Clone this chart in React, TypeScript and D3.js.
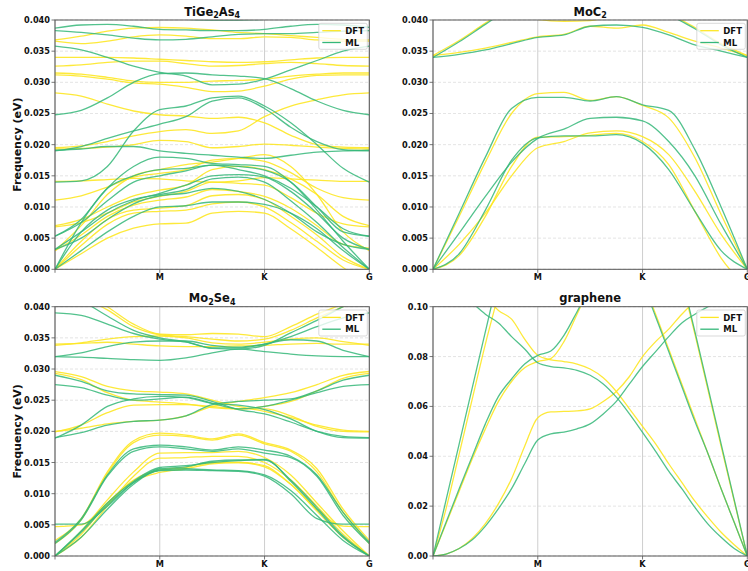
import React from 'react';
import * as d3 from 'd3';

// ---------- path grid (G-M-K-G) ----------
const K13 = [0, 0.25, 0.5, 0.75, 1, 1.25, 1.5, 1.75, 2, 2.25, 2.5, 2.75, 3];
const K25 = [0, 0.125, 0.25, 0.375, 0.5, 0.625, 0.75, 0.875, 1, 1.125, 1.25, 1.375, 1.5, 1.625, 1.75, 1.875, 2, 2.125, 2.25, 2.375, 2.5, 2.625, 2.75, 2.875, 3];
const kTickPos = [0, 1, 2, 3];
const kTickLabels = ['', 'M', 'K', 'G'];
const yTicks040 = [0, 0.005, 0.01, 0.015, 0.02, 0.025, 0.03, 0.035, 0.04];
const yTicks010 = [0, 0.02, 0.04, 0.06, 0.08, 0.1];
const seriesNames = ['DFT', 'ML'];

// ---------- TiGe2As4 ----------
const tiDFT = [
  [0.0368, 0.0374, 0.0382, 0.0387, 0.0388, 0.0387, 0.0384, 0.0380, 0.0378, 0.0375, 0.0372, 0.0369, 0.0368],
  [0.0366, 0.0362, 0.0366, 0.0373, 0.0376, 0.0374, 0.0370, 0.0370, 0.0373, 0.0372, 0.0368, 0.0366, 0.0366],
  [0.0340, 0.0340, 0.0340, 0.0339, 0.0337, 0.0335, 0.0333, 0.0332, 0.0333, 0.0336, 0.0339, 0.0340, 0.0340],
  [0.0326, 0.0328, 0.0332, 0.0334, 0.0334, 0.0330, 0.0326, 0.0327, 0.0330, 0.0332, 0.0330, 0.0327, 0.0326],
  [0.0315, 0.0313, 0.0308, 0.0302, 0.0300, 0.0300, 0.0302, 0.0303, 0.0305, 0.0310, 0.0313, 0.0315, 0.0315],
  [0.0312, 0.0310, 0.0305, 0.0299, 0.0297, 0.0292, 0.0285, 0.0286, 0.0294, 0.0305, 0.0311, 0.0312, 0.0312],
  [0.0283, 0.0278, 0.0265, 0.0254, 0.0248, 0.0246, 0.0242, 0.0244, 0.0235, 0.0215, 0.0200, 0.0196, 0.0195],
  [0.0195, 0.0198, 0.0205, 0.0214, 0.0221, 0.0224, 0.0218, 0.0222, 0.0245, 0.0262, 0.0272, 0.0280, 0.0283],
  [0.0193, 0.0194, 0.0196, 0.0200, 0.0207, 0.0205, 0.0195, 0.0197, 0.0201, 0.0199, 0.0196, 0.0194, 0.0193],
  [0.0141, 0.0142, 0.0144, 0.0146, 0.0145, 0.0142, 0.0140, 0.0142, 0.0147, 0.0145, 0.0143, 0.0141, 0.0141],
  [0.0111, 0.0118, 0.0132, 0.0148, 0.0154, 0.0160, 0.0175, 0.0178, 0.0173, 0.0155, 0.0130, 0.0115, 0.0111],
  [0.0070, 0.0080, 0.0100, 0.0118, 0.0127, 0.0135, 0.0160, 0.0165, 0.0160, 0.0145, 0.0120, 0.0085, 0.0070],
  [0.0068, 0.0075, 0.0090, 0.0108, 0.0117, 0.0125, 0.0140, 0.0138, 0.0135, 0.0115, 0.0090, 0.0073, 0.0068],
  [0.0030, 0.0055, 0.0085, 0.0103, 0.0111, 0.0116, 0.0128, 0.0125, 0.0117, 0.0098, 0.0070, 0.0040, 0.0034],
  [0.0000, 0.0045, 0.0080, 0.0095, 0.0098, 0.0102, 0.0118, 0.0120, 0.0112, 0.0085, 0.0055, 0.0020, 0.0000],
  [0.0000, 0.0038, 0.0072, 0.0090, 0.0093, 0.0095, 0.0105, 0.0108, 0.0100, 0.0075, 0.0045, 0.0015, 0.0000],
  [0.0000, 0.0025, 0.0050, 0.0066, 0.0073, 0.0074, 0.0090, 0.0093, 0.0090, 0.0065, 0.0035, 0.0003, -0.0025],
  [0.0030, 0.0070, 0.0120, 0.0150, 0.0160, 0.0168, 0.0172, 0.0178, 0.0184, 0.0165, 0.0120, 0.0060, 0.0030],
];
const tiML = [
  [0.0387, 0.0392, 0.0393, 0.0390, 0.0385, 0.0384, 0.0383, 0.0383, 0.0385, 0.0390, 0.0393, 0.0392, 0.0388],
  [0.0383, 0.0380, 0.0376, 0.0371, 0.0368, 0.0369, 0.0373, 0.0377, 0.0378, 0.0378, 0.0380, 0.0382, 0.0383],
  [0.0450, 0.0440, 0.0430, 0.0415, 0.0406, 0.0401, 0.0400, 0.0400, 0.0401, 0.0404, 0.0410, 0.0420, 0.0450],
  [0.0358, 0.0352, 0.0340, 0.0326, 0.0316, 0.0310, 0.0296, 0.0297, 0.0305, 0.0320, 0.0335, 0.0350, 0.0358],
  [0.0248, 0.0255, 0.0275, 0.0300, 0.0314, 0.0315, 0.0312, 0.0310, 0.0306, 0.0290, 0.0270, 0.0255, 0.0248],
  [0.0140, 0.0142, 0.0165, 0.0222, 0.0256, 0.0262, 0.0275, 0.0278, 0.0262, 0.0235, 0.0200, 0.0162, 0.0140],
  [0.0190, 0.0197, 0.0210, 0.0222, 0.0233, 0.0245, 0.0270, 0.0275, 0.0258, 0.0228, 0.0205, 0.0192, 0.0190],
  [0.0191, 0.0193, 0.0197, 0.0197, 0.0190, 0.0186, 0.0183, 0.0180, 0.0178, 0.0183, 0.0188, 0.0190, 0.0191],
  [0.0000, 0.0030, 0.0060, 0.0085, 0.0100, 0.0102, 0.0108, 0.0108, 0.0104, 0.0090, 0.0065, 0.0030, 0.0000],
  [0.0032, 0.0050, 0.0080, 0.0105, 0.0118, 0.0122, 0.0130, 0.0125, 0.0112, 0.0090, 0.0060, 0.0040, 0.0032],
  [0.0000, 0.0060, 0.0095, 0.0112, 0.0120, 0.0128, 0.0145, 0.0148, 0.0140, 0.0110, 0.0075, 0.0035, 0.0000],
  [0.0032, 0.0060, 0.0090, 0.0110, 0.0122, 0.0135, 0.0150, 0.0152, 0.0148, 0.0125, 0.0090, 0.0050, 0.0032],
  [0.0053, 0.0075, 0.0110, 0.0140, 0.0150, 0.0158, 0.0167, 0.0160, 0.0150, 0.0130, 0.0100, 0.0065, 0.0053],
  [0.0053, 0.0080, 0.0130, 0.0150, 0.0160, 0.0162, 0.0167, 0.0165, 0.0159, 0.0140, 0.0100, 0.0060, 0.0053],
  [0.0000, 0.0075, 0.0130, 0.0165, 0.0180, 0.0178, 0.0170, 0.0168, 0.0165, 0.0140, 0.0095, 0.0045, 0.0000],
];

// ---------- MoC2 ----------
const mocDFT = [
  [0.0343, 0.0367, 0.0395, 0.0420, 0.0440, 0.0450, 0.0455, 0.0455, 0.0445, 0.0412, 0.0388, 0.0362, 0.0343],
  [0.0343, 0.0348, 0.0355, 0.0364, 0.0373, 0.0377, 0.0390, 0.0387, 0.0392, 0.0380, 0.0366, 0.0355, 0.0343],
  [0.0500, 0.0470, 0.0440, 0.0415, 0.0401, 0.0398, 0.0399, 0.0410, 0.0430, 0.0450, 0.0470, 0.0490, 0.0500],
  [0.0000, 0.0085, 0.0172, 0.0250, 0.0282, 0.0284, 0.0271, 0.0277, 0.0263, 0.0243, 0.0179, 0.0088, 0.0000],
  [0.0000, 0.0040, 0.0090, 0.0150, 0.0195, 0.0205, 0.0219, 0.0222, 0.0213, 0.0184, 0.0125, 0.0056, 0.0000],
  [0.0000, 0.0022, 0.0085, 0.0165, 0.0212, 0.0213, 0.0215, 0.0218, 0.0205, 0.0168, 0.0093, 0.0018, -0.0030],
];
const mocML = [
  [0.0340, 0.0365, 0.0393, 0.0420, 0.0440, 0.0450, 0.0455, 0.0455, 0.0445, 0.0410, 0.0386, 0.0360, 0.0340],
  [0.0340, 0.0345, 0.0352, 0.0362, 0.0372, 0.0376, 0.0390, 0.0392, 0.0388, 0.0376, 0.0360, 0.0350, 0.0340],
  [0.0000, 0.0090, 0.0180, 0.0258, 0.0276, 0.0276, 0.0270, 0.0277, 0.0264, 0.0255, 0.0192, 0.0100, 0.0000],
  [0.0000, 0.0058, 0.0117, 0.0172, 0.0210, 0.0225, 0.0242, 0.0244, 0.0238, 0.0205, 0.0150, 0.0072, 0.0000],
  [0.0000, 0.0025, 0.0095, 0.0175, 0.0211, 0.0214, 0.0214, 0.0216, 0.0202, 0.0160, 0.0093, 0.0030, 0.0000],
];

// ---------- Mo2Se4 ----------
const moseDFT = [
  [0.0440, 0.0425, 0.0400, 0.0372, 0.0356, 0.0355, 0.0357, 0.0356, 0.0352, 0.0368, 0.0388, 0.0405, 0.0430],
  [0.0430, 0.0415, 0.0395, 0.0368, 0.0355, 0.0352, 0.0348, 0.0345, 0.0348, 0.0362, 0.0382, 0.0400, 0.0420],
  [0.0340, 0.0341, 0.0343, 0.0340, 0.0337, 0.0336, 0.0336, 0.0337, 0.0338, 0.0340, 0.0341, 0.0340, 0.0340],
  [0.0338, 0.0342, 0.0348, 0.0352, 0.0353, 0.0350, 0.0342, 0.0340, 0.0343, 0.0348, 0.0350, 0.0344, 0.0338],
  [0.0296, 0.0288, 0.0272, 0.0265, 0.0263, 0.0260, 0.0250, 0.0240, 0.0232, 0.0222, 0.0210, 0.0202, 0.0200],
  [0.0200, 0.0205, 0.0212, 0.0216, 0.0218, 0.0225, 0.0240, 0.0248, 0.0254, 0.0262, 0.0275, 0.0290, 0.0296],
  [0.0293, 0.0283, 0.0262, 0.0250, 0.0247, 0.0244, 0.0238, 0.0236, 0.0240, 0.0248, 0.0265, 0.0285, 0.0293],
  [0.0199, 0.0210, 0.0230, 0.0242, 0.0243, 0.0243, 0.0240, 0.0236, 0.0236, 0.0225, 0.0208, 0.0200, 0.0199],
  [0.0025, 0.0060, 0.0135, 0.0185, 0.0197, 0.0194, 0.0188, 0.0196, 0.0182, 0.0170, 0.0140, 0.0075, 0.0025],
  [0.0020, 0.0058, 0.0132, 0.0182, 0.0194, 0.0192, 0.0186, 0.0194, 0.0180, 0.0168, 0.0135, 0.0070, 0.0020],
  [0.0000, 0.0040, 0.0090, 0.0135, 0.0165, 0.0166, 0.0166, 0.0168, 0.0158, 0.0130, 0.0085, 0.0040, 0.0000],
  [0.0000, 0.0030, 0.0080, 0.0128, 0.0157, 0.0158, 0.0160, 0.0160, 0.0150, 0.0122, 0.0080, 0.0035, 0.0000],
  [0.0047, 0.0050, 0.0085, 0.0122, 0.0138, 0.0142, 0.0150, 0.0150, 0.0145, 0.0115, 0.0075, 0.0048, 0.0047],
  [0.0000, 0.0035, 0.0085, 0.0120, 0.0134, 0.0140, 0.0148, 0.0150, 0.0143, 0.0115, 0.0072, 0.0030, 0.0000],
];
const moseML = [
  [0.0390, 0.0386, 0.0372, 0.0357, 0.0348, 0.0343, 0.0334, 0.0334, 0.0340, 0.0352, 0.0368, 0.0382, 0.0390],
  [0.0430, 0.0410, 0.0385, 0.0362, 0.0350, 0.0344, 0.0333, 0.0332, 0.0338, 0.0358, 0.0378, 0.0400, 0.0420],
  [0.0320, 0.0326, 0.0336, 0.0343, 0.0345, 0.0345, 0.0338, 0.0335, 0.0340, 0.0347, 0.0345, 0.0330, 0.0320],
  [0.0320, 0.0319, 0.0317, 0.0315, 0.0314, 0.0318, 0.0326, 0.0332, 0.0328, 0.0324, 0.0321, 0.0320, 0.0320],
  [0.0290, 0.0280, 0.0265, 0.0260, 0.0259, 0.0258, 0.0248, 0.0235, 0.0228, 0.0215, 0.0200, 0.0192, 0.0190],
  [0.0190, 0.0198, 0.0210, 0.0216, 0.0218, 0.0225, 0.0243, 0.0248, 0.0250, 0.0252, 0.0265, 0.0282, 0.0290],
  [0.0275, 0.0270, 0.0258, 0.0250, 0.0252, 0.0255, 0.0245, 0.0236, 0.0240, 0.0250, 0.0262, 0.0272, 0.0275],
  [0.0189, 0.0210, 0.0240, 0.0252, 0.0256, 0.0254, 0.0245, 0.0242, 0.0235, 0.0220, 0.0200, 0.0190, 0.0189],
  [0.0022, 0.0060, 0.0130, 0.0172, 0.0178, 0.0175, 0.0170, 0.0175, 0.0170, 0.0160, 0.0130, 0.0070, 0.0022],
  [0.0020, 0.0058, 0.0128, 0.0168, 0.0175, 0.0172, 0.0168, 0.0172, 0.0165, 0.0158, 0.0128, 0.0065, 0.0020],
  [0.0000, 0.0040, 0.0085, 0.0120, 0.0142, 0.0145, 0.0150, 0.0153, 0.0155, 0.0120, 0.0075, 0.0030, 0.0000],
  [0.0000, 0.0038, 0.0082, 0.0118, 0.0140, 0.0143, 0.0152, 0.0154, 0.0154, 0.0122, 0.0078, 0.0032, 0.0000],
  [0.0000, 0.0030, 0.0075, 0.0115, 0.0138, 0.0140, 0.0138, 0.0137, 0.0130, 0.0105, 0.0065, 0.0025, 0.0000],
  [0.0051, 0.0051, 0.0080, 0.0118, 0.0137, 0.0138, 0.0137, 0.0136, 0.0128, 0.0100, 0.0060, 0.0051, 0.0051],
];

// ---------- graphene ----------
const grDFT = [
  [0, 0.019, 0.041, 0.063, 0.085, 0.105, 0.125, 0.14, 0.15, 0.155, 0.158, 0.16, 0.16, 0.16, 0.158, 0.155, 0.15, 0.14, 0.128, 0.11, 0.089, 0.0665, 0.044, 0.022, 0],
  [0, 0.013, 0.026, 0.039, 0.051, 0.062, 0.070, 0.0755, 0.078, 0.0792, 0.086, 0.097, 0.108, 0.117, 0.12, 0.118, 0.11, 0.097, 0.083, 0.069, 0.055, 0.041, 0.027, 0.0135, 0],
  [0, 0.0008, 0.003, 0.007, 0.013, 0.021, 0.031, 0.044, 0.0555, 0.0578, 0.058, 0.0582, 0.059, 0.062, 0.066, 0.072, 0.080, 0.086, 0.091, 0.097, 0.102, 0.106, 0.109, 0.111, 0.112],
  [0.115, 0.113, 0.111, 0.108, 0.104, 0.0985, 0.095, 0.087, 0.0805, 0.0787, 0.078, 0.077, 0.075, 0.0715, 0.066, 0.059, 0.052, 0.045, 0.037, 0.0295, 0.022, 0.0155, 0.0095, 0.0045, 0],
];
const grML = [
  [0, 0.0225, 0.045, 0.0675, 0.09, 0.112, 0.13, 0.145, 0.155, 0.16, 0.162, 0.163, 0.163, 0.163, 0.162, 0.16, 0.155, 0.148, 0.135, 0.112, 0.09, 0.0675, 0.045, 0.0225, 0],
  [0, 0.0135, 0.027, 0.040, 0.053, 0.064, 0.071, 0.077, 0.0805, 0.0822, 0.0885, 0.098, 0.108, 0.117, 0.12, 0.117, 0.109, 0.096, 0.082, 0.068, 0.054, 0.041, 0.027, 0.0135, 0],
  [0, 0.0008, 0.003, 0.0065, 0.012, 0.019, 0.027, 0.037, 0.0465, 0.049, 0.0497, 0.051, 0.053, 0.057, 0.062, 0.069, 0.076, 0.082, 0.088, 0.0935, 0.097, 0.100, 0.103, 0.105, 0.106],
  [0.110, 0.108, 0.106, 0.1015, 0.097, 0.0935, 0.088, 0.083, 0.0775, 0.076, 0.0755, 0.0745, 0.0725, 0.069, 0.0637, 0.057, 0.0496, 0.042, 0.034, 0.027, 0.0195, 0.0128, 0.0075, 0.003, 0],
];

const DFT_COLOR = '#FDE725';
const ML_COLOR = '#35B779';
const FONT = 'DejaVu Sans, sans-serif';

type TitlePart = { t: string; sub?: boolean };
type PanelCfg = {
  id: string;
  title: TitlePart[];
  left: number;
  top: number;
  width: number;
  height: number;
  yMax: number;
  yTicks: number[];
  fmt: string;
  grid: number[];
  dft: number[][];
  ml: number[][];
  yLabel: boolean;
};

const PW = 314.3;
const PH = 249.3;

const panels: PanelCfg[] = [
  { id: 'p1', title: [{ t: 'TiGe' }, { t: '2', sub: true }, { t: 'As' }, { t: '4', sub: true }], left: 55, top: 20, width: PW, height: PH, yMax: 0.04, yTicks: yTicks040, fmt: '.3f', grid: K13, dft: tiDFT, ml: tiML, yLabel: true },
  { id: 'p2', title: [{ t: 'MoC' }, { t: '2', sub: true }], left: 433, top: 20, width: PW, height: PH, yMax: 0.04, yTicks: yTicks040, fmt: '.3f', grid: K13, dft: mocDFT, ml: mocML, yLabel: false },
  { id: 'p3', title: [{ t: 'Mo' }, { t: '2', sub: true }, { t: 'Se' }, { t: '4', sub: true }], left: 55, top: 306.7, width: PW, height: PH, yMax: 0.04, yTicks: yTicks040, fmt: '.3f', grid: K13, dft: moseDFT, ml: moseML, yLabel: true },
  { id: 'p4', title: [{ t: 'graphene' }], left: 433, top: 306.7, width: PW, height: PH, yMax: 0.1, yTicks: yTicks010, fmt: '.2f', grid: K25, dft: grDFT, ml: grML, yLabel: false },
];

function Panel({ cfg }: { cfg: PanelCfg }) {
  const { left, top, width, height, yMax, yTicks, fmt, grid, dft, ml, title, yLabel, id } = cfg;
  const right = left + width;
  const bottom = top + height;
  const x = d3.scaleLinear().domain([0, 3]).range([left, right]);
  const y = d3.scaleLinear().domain([0, yMax]).range([bottom, top]);
  const f = d3.format(fmt);
  const line = d3
    .line<number>()
    .x((_d, i) => x(grid[i]))
    .y((d) => y(d))
    .curve(d3.curveMonotoneX);

  let dyAcc = 0;
  const titleSpans = title.map((p, i) => {
    const target = p.sub ? 2.8 : 0;
    const dy = target - dyAcc;
    dyAcc = target;
    return (
      <tspan key={i} dy={dy} fontSize={p.sub ? 8 : 11.5}>
        {p.t}
      </tspan>
    );
  });

  const legX = right - 50.5;
  const legY = top + 3.3;

  return (
    <g>
      <defs>
        <clipPath id={`clip-${id}`}>
          <rect x={left} y={top} width={width} height={height} />
        </clipPath>
      </defs>
      {/* grid */}
      {yTicks.map((t, i) => (
        <line key={`hg${i}`} x1={left} x2={right} y1={y(t)} y2={y(t)} stroke="#d8d8d8" strokeWidth={0.7} strokeDasharray="3,2" />
      ))}
      {kTickPos.map((k, i) => (
        <line key={`vg${i}`} x1={x(k)} x2={x(k)} y1={top} y2={bottom} stroke="#c8c8c8" strokeWidth={0.9} />
      ))}
      {/* bands */}
      <g clipPath={`url(#clip-${id})`} fill="none" strokeWidth={1.3} strokeLinejoin="round">
        {dft.map((b, i) => (
          <path key={`d${i}`} d={line(b) || ''} stroke={DFT_COLOR} strokeOpacity={0.9} />
        ))}
        {ml.map((b, i) => (
          <path key={`m${i}`} d={line(b) || ''} stroke={ML_COLOR} strokeOpacity={0.85} />
        ))}
      </g>
      {/* spines */}
      <rect x={left} y={top} width={width} height={height} fill="none" stroke="#555" strokeWidth={1} />
      {/* y ticks */}
      {yTicks.map((t, i) => (
        <g key={`yt${i}`}>
          <line x1={left - 3.5} x2={left} y1={y(t)} y2={y(t)} stroke="#555" strokeWidth={0.8} />
          <text x={left - 5} y={y(t) + 3} textAnchor="end" fontFamily={FONT} fontWeight="bold" fontSize={8.2} fill="#111">
            {f(t)}
          </text>
        </g>
      ))}
      {/* x ticks */}
      {kTickPos.map((k, i) => (
        <g key={`xt${i}`}>
          <line x1={x(k)} x2={x(k)} y1={bottom} y2={bottom + 3.5} stroke="#555" strokeWidth={0.8} />
          <text x={x(k)} y={bottom + 11} textAnchor="middle" fontFamily={FONT} fontWeight="bold" fontSize={8.2} fill="#111">
            {kTickLabels[i]}
          </text>
        </g>
      ))}
      {/* title */}
      <text x={(left + right) / 2} y={top - 4.5} textAnchor="middle" fontFamily={FONT} fontWeight="bold" fill="#111">
        {titleSpans}
      </text>
      {yLabel && (
        <text
          transform={`translate(${20.5},${(top + bottom) / 2}) rotate(-90)`}
          textAnchor="middle"
          fontFamily={FONT}
          fontWeight="bold"
          fontSize={11}
          fill="#111"
        >
          Frequency (eV)
        </text>
      )}
      {/* legend */}
      <g>
        <rect x={legX} y={legY} width={48.5} height={26} rx={2} fill="#fff" fillOpacity={0.8} stroke="#cfcfcf" strokeWidth={0.8} />
        {seriesNames.map((n, i) => (
          <g key={n}>
            <line x1={legX + 3.5} x2={legX + 22} y1={legY + 7.4 + i * 11.8} y2={legY + 7.4 + i * 11.8} stroke={i === 0 ? DFT_COLOR : ML_COLOR} strokeWidth={1.3} />
            <text x={legX + 26.5} y={legY + 10.5 + i * 11.8} fontFamily={FONT} fontWeight="bold" fontSize={8.5} fill="#111">
              {n}
            </text>
          </g>
        ))}
      </g>
    </g>
  );
}

export default function App() {
  return (
    <svg
      width={748}
      height={571}
      viewBox="0 0 748 571"
      style={{ position: 'absolute', left: 0, top: 0, display: 'block', background: '#fff' }}
    >
      <rect x={0} y={0} width={748} height={571} fill="#fff" />
      {panels.map((p) => (
        <Panel key={p.id} cfg={p} />
      ))}
    </svg>
  );
}
